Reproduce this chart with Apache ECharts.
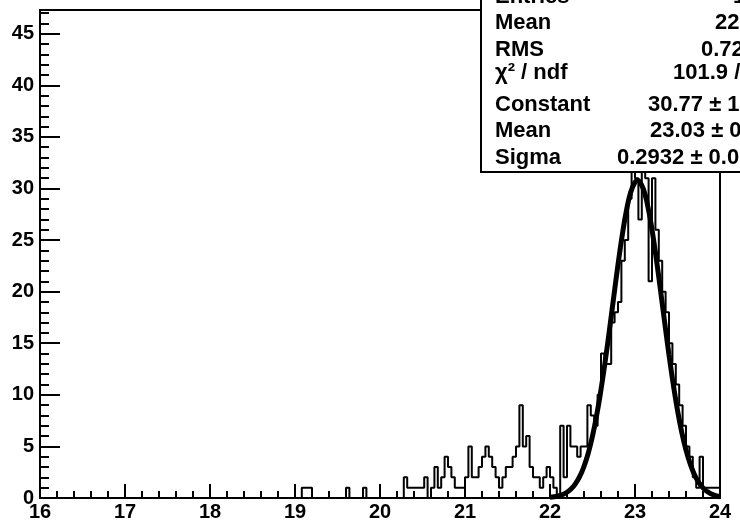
<!DOCTYPE html>
<html>
<head>
<meta charset="utf-8">
<script src="https://cdn.jsdelivr.net/npm/echarts@6.0.0/dist/echarts.min.js"></script>
<style>
  html, body { margin: 0; padding: 0; background: #fff; }
  #chart { width: 740px; height: 527px; }
</style>
</head>
<body>
<div id="chart"></div>
<script>
// histogram: 200 bins from 16 to 24
const xMin = 16
const xMax = 24
const binWidth = 0.04
const yMax = 47.3

const counts = [
  0, 0, 0, 0, 0, 0, 0, 0, 0, 0, 0, 0, 0, 0, 0, 0, 0, 0, 0, 0,
  0, 0, 0, 0, 0, 0, 0, 0, 0, 0, 0, 0, 0, 0, 0, 0, 0, 0, 0, 0,
  0, 0, 0, 0, 0, 0, 0, 0, 0, 0, 0, 0, 0, 0, 0, 0, 0, 0, 0, 0,
  0, 0, 0, 0, 0, 0, 0, 0, 0, 0, 0, 0, 0, 0, 0, 0, 0, 1, 1, 1,
  0, 0, 0, 0, 0, 0, 0, 0, 0, 0, 1, 0, 0, 0, 0, 1, 0, 0, 0, 0,
  0, 0, 0, 0, 0, 0, 0, 2, 1, 1, 1, 1, 1, 2, 0, 1, 3, 1, 2, 4,
  3, 2, 1, 1, 1, 2, 5, 2, 2, 3, 4, 5, 4, 3, 2, 1, 2, 3, 3, 4,
  5, 9, 5, 6, 3, 2, 2, 1, 2, 3, 2, 1, 0, 7, 2, 7, 5, 5, 4, 5,
  5, 9, 8, 7, 10, 14, 13, 13, 17, 18, 19, 23, 25, 29, 32, 31, 27, 32, 31, 21,
  31, 26, 23, 20, 18, 15, 13, 11, 9, 7, 5, 4, 2, 1, 4, 1, 1, 1, 1, 1
]

// gaussian fit curve
const fitX = [
  22.00, 22.05, 22.10, 22.15, 22.20, 22.25, 22.30, 22.35, 22.40, 22.45,
  22.50, 22.55, 22.60, 22.65, 22.70, 22.75, 22.80, 22.85, 22.90, 22.95,
  23.00, 23.03, 23.05, 23.10, 23.15, 23.20, 23.25, 23.30, 23.35, 23.40,
  23.45, 23.50, 23.55, 23.60, 23.65, 23.70, 23.75, 23.80, 23.85, 23.90,
  23.95, 24.00
]
const fitY = [
  0.06, 0.12, 0.20, 0.34, 0.56, 0.89, 1.39, 2.09, 3.06, 4.35,
  6.01, 8.06, 10.50, 13.28, 16.33, 19.50, 22.62, 25.48, 27.89, 29.65,
  30.61, 30.77, 30.70, 29.91, 28.30, 26.01, 23.22, 20.14, 16.96, 13.88,
  11.03, 8.51, 6.38, 4.65, 3.29, 2.26, 1.51, 0.98, 0.62, 0.38,
  0.22, 0.13
]

// stats box rows (right part is cut off by the canvas edge)
const statNames = ['Entries', 'Mean', 'RMS', 'χ² / ndf', 'Constant', 'Mean', 'Sigma']
const statValues = ['1', '22', '0.72', '101.9 /', '30.77 ± 1', '23.03 ± 0', '0.2932 ± 0.01']
const statRowY = [-3, 22.5, 49.5, 72.5, 104.5, 131, 157.5]
const statValueX = [733, 715, 701, 673, 648, 650, 617]

const FONT = '"Liberation Sans", Arial, sans-serif'

const histData = counts.map((c, i) => [+(xMin + i * binWidth).toFixed(2), c])
histData.push([xMax, counts[counts.length - 1]])
histData.push([xMax, 0])

const fitData = fitX.map((x, i) => [x, fitY[i]])

const graphics = [{
  type: 'rect',
  z: 100,
  shape: { x: 481, y: -5, width: 270, height: 177 },
  style: { fill: '#fff', stroke: '#000', lineWidth: 2 }
}]
statNames.forEach((name, i) => {
  graphics.push({
    type: 'text',
    z: 101,
    style: {
      text: name, x: 495, y: statRowY[i],
      font: 'bold 22px ' + FONT, fill: '#000', verticalAlign: 'middle'
    }
  })
  graphics.push({
    type: 'text',
    z: 101,
    style: {
      text: statValues[i], x: statValueX[i], y: statRowY[i],
      font: 'bold 22px ' + FONT, fill: '#000', verticalAlign: 'middle'
    }
  })
})

const chart = echarts.init(document.getElementById('chart'), null, { renderer: 'canvas' })
chart.setOption({
  animation: false,
  backgroundColor: '#fff',
  grid: {
    left: 40,
    right: 20,
    top: 10,
    bottom: 29,
    show: true,
    borderColor: '#000',
    borderWidth: 2,
    backgroundColor: '#fff'
  },
  xAxis: {
    type: 'value',
    min: xMin,
    max: xMax,
    interval: 1,
    axisLine: { show: true, onZero: false, lineStyle: { color: '#000', width: 2 } },
    axisTick: { inside: true, length: 14, lineStyle: { color: '#000', width: 2 } },
    minorTick: { show: true, splitNumber: 5, length: 7, lineStyle: { color: '#000', width: 2 } },
    splitLine: { show: false },
    axisLabel: { color: '#000', fontFamily: FONT, fontWeight: 'bold', fontSize: 20, margin: 4 }
  },
  yAxis: {
    type: 'value',
    min: 0,
    max: yMax,
    interval: 5,
    axisLine: { show: true, lineStyle: { color: '#000', width: 2 } },
    axisTick: { inside: true, length: 20, lineStyle: { color: '#000', width: 2 } },
    minorTick: { show: true, splitNumber: 5, length: 9, lineStyle: { color: '#000', width: 2 } },
    splitLine: { show: false },
    axisLabel: {
      color: '#000', fontFamily: FONT, fontWeight: 'bold', fontSize: 20, margin: 6,
      showMaxLabel: false
    }
  },
  series: [
    {
      name: 'hist',
      type: 'line',
      step: 'end',
      data: histData,
      showSymbol: false,
      lineStyle: { color: '#000', width: 2 },
      z: 2
    },
    {
      name: 'fit',
      type: 'line',
      smooth: true,
      data: fitData,
      showSymbol: false,
      lineStyle: { color: '#000', width: 5 },
      z: 3
    }
  ],
  graphic: graphics
})
</script>
</body>
</html>
